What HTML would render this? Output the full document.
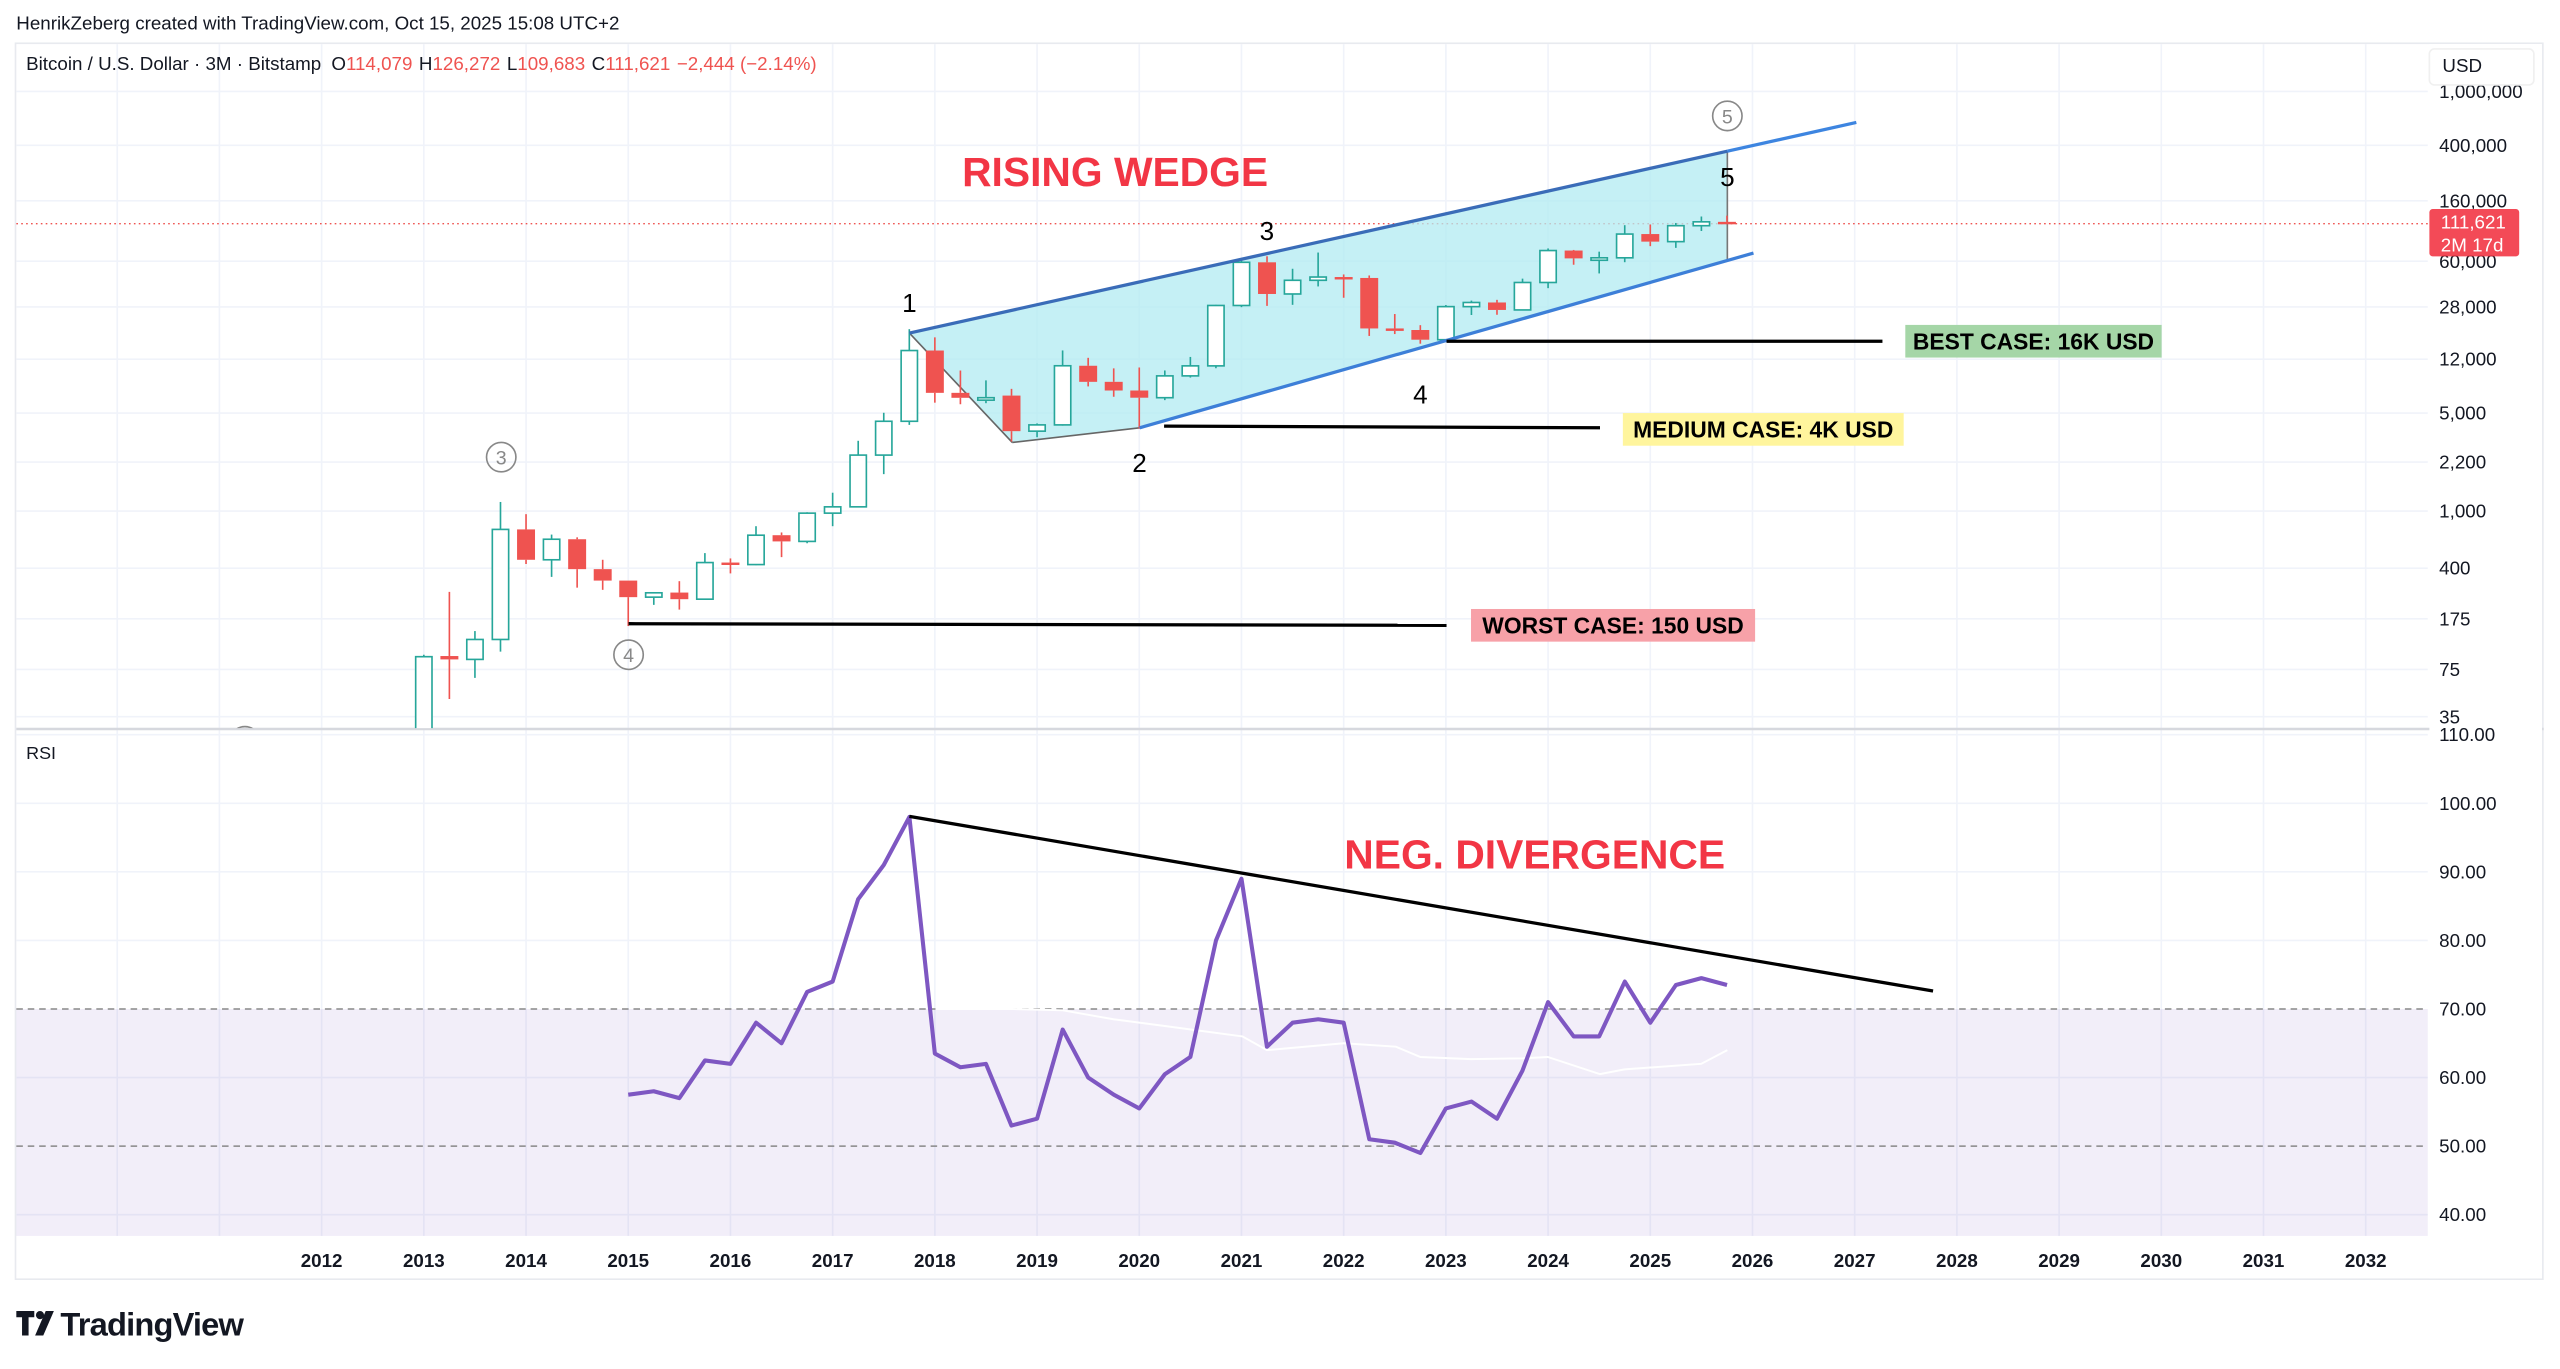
<!DOCTYPE html>
<html><head><meta charset="utf-8">
<style>
html,body{margin:0;padding:0;background:#fff;}
svg{display:block;}
text{font-family:"Liberation Sans",Arial,sans-serif;}
</style></head>
<body>
<svg id="s" width="2560" height="1369" viewBox="0 0 1568 838.5" xmlns="http://www.w3.org/2000/svg">
<defs><clipPath id="pp"><rect x="10" y="27" width="1477" height="419"/></clipPath></defs>
<rect x="0" y="0" width="1568" height="838.5" fill="#fff"/>
<text x="10" y="18" font-size="11.5" fill="#131722">HenrikZeberg created with TradingView.com, Oct 15, 2025 15:08 UTC+2</text>
<rect x="9.5" y="26.5" width="1548" height="757" fill="none" stroke="#e8eaef" stroke-width="1"/>
<g id="grid"></g>
<rect x="10" y="618" width="1477" height="139" fill="#7e57c2" fill-opacity="0.1"/>
<line x1="10" y1="618" x2="1487" y2="618" stroke="#888" stroke-dasharray="4,3" stroke-width="0.9"/>
<line x1="10" y1="702" x2="1487" y2="702" stroke="#888" stroke-dasharray="4,3" stroke-width="0.9"/>
<line x1="10" y1="446.5" x2="1558" y2="446.5" stroke="#d6d8de" stroke-width="1.5"/>
<line x1="10" y1="137" x2="1487" y2="137" stroke="#ef5350" stroke-dasharray="1,2" stroke-width="0.8"/>
<polygon points="557,204 1058,92.6 1058,159.6 698,262 620,271" fill="#b2ebf2" fill-opacity="0.75"/>
<line x1="557" y1="204" x2="620" y2="271" stroke="#666" stroke-width="1"/>
<line x1="620" y1="271" x2="698" y2="262" stroke="#666" stroke-width="1"/>
<line x1="1058" y1="92.6" x2="1058" y2="159.6" stroke="#777" stroke-width="1"/>
<g id="candles"></g>
<line x1="557" y1="204" x2="1058" y2="92.6" stroke="#3a6cb8" stroke-width="2"/>
<line x1="1058" y1="92.6" x2="1137" y2="75" stroke="#3d85e0" stroke-width="2"/>
<line x1="698" y1="262" x2="1074" y2="155" stroke="#3d7fd8" stroke-width="2"/>
<line x1="886" y1="209" x2="1153" y2="209" stroke="#000" stroke-width="2"/>
<line x1="713" y1="261" x2="980" y2="262" stroke="#000" stroke-width="2"/>
<line x1="385" y1="382" x2="886" y2="383" stroke="#000" stroke-width="2"/>
<rect x="1167" y="199" width="157" height="20" fill="#a5d6a7"/>
<text x="1245.5" y="214" font-size="14" font-weight="bold" text-anchor="middle" fill="#000">BEST CASE: 16K USD</text>
<rect x="994" y="253" width="172" height="20" fill="#fff59d"/>
<text x="1080" y="268" font-size="14" font-weight="bold" text-anchor="middle" fill="#000">MEDIUM CASE: 4K USD</text>
<rect x="901" y="373" width="174" height="20" fill="#f7a1a8"/>
<text x="988" y="388" font-size="14" font-weight="bold" text-anchor="middle" fill="#000">WORST CASE: 150 USD</text>
<text x="683" y="114" font-size="25" font-weight="bold" text-anchor="middle" fill="#f23645">RISING WEDGE</text>
<text x="940" y="532" font-size="25" font-weight="bold" text-anchor="middle" fill="#f23645">NEG. DIVERGENCE</text>
<g font-size="16" fill="#000" text-anchor="middle">
<text x="557" y="191">1</text><text x="698" y="289">2</text><text x="776" y="147">3</text><text x="870" y="247">4</text><text x="1058" y="114">5</text>
</g>
<g fill="none" stroke="#888" stroke-width="1" clip-path="url(#pp)">
<circle cx="307" cy="280" r="9"/><circle cx="385" cy="401" r="9"/><circle cx="1058" cy="71" r="9"/><circle cx="150" cy="454" r="9"/>
</g>
<g font-size="12" fill="#888" text-anchor="middle">
<text x="307" y="284.5">3</text><text x="385" y="405.5">4</text><text x="1058" y="75.5">5</text>
</g>
<polyline id="ma" fill="none" stroke="#fff" stroke-width="1.2" points=""/>
<polyline id="rsi" fill="none" stroke="#7e57c2" stroke-width="2.5" stroke-linejoin="round" points=""/>
<line x1="557" y1="500" x2="1184" y2="607" stroke="#000" stroke-width="2"/>
<text x="16" y="43" font-size="11.5" fill="#131722">Bitcoin / U.S. Dollar · 3M · Bitstamp <tspan dx="3">O</tspan><tspan fill="#ef5350">114,079</tspan><tspan dx="4">H</tspan><tspan fill="#ef5350">126,272</tspan><tspan dx="4">L</tspan><tspan fill="#ef5350">109,683</tspan><tspan dx="4">C</tspan><tspan fill="#ef5350">111,621</tspan><tspan dx="4" fill="#ef5350">−2,444 (−2.14%)</tspan></text>
<text x="16" y="465" font-size="11" fill="#131722">RSI</text>
<rect x="1488" y="27" width="69" height="756" fill="#fff"/>
<g font-size="11.5" fill="#131722" id="pl"></g>
<rect x="1488" y="30" width="64" height="22" rx="3" fill="#fff" stroke="#f0f0f0"/>
<text x="1496" y="44" font-size="11.5" fill="#131722">USD</text>
<rect x="1488" y="128" width="55" height="29" rx="2" fill="#f23645" fill-opacity="0.9"/>
<text x="1495" y="140" font-size="11.5" fill="#fff">111,621</text>
<text x="1495" y="154" font-size="11.5" fill="#fff">2M 17d</text>
<g id="years" font-size="11.5" font-weight="bold" fill="#131722" text-anchor="middle"></g>
<g transform="translate(10,803)">
<path d="M0 0h11v3.8h-3.5v11.2h-4v-11.2h-3.5z" fill="#131722"/>
<circle cx="14.5" cy="2.5" r="2.5" fill="#131722"/>
<path d="M18 0h5l-6.5 15h-5z" fill="#131722"/>
</g>
<text x="37" y="818" font-size="20" font-weight="bold" fill="#131722" letter-spacing="-0.5">TradingView</text>
<script>
(function(){
var NS="http://www.w3.org/2000/svg";
function el(t,a,p){var e=document.createElementNS(NS,t);for(var k in a)e.setAttribute(k,a[k]);(p||document.getElementById('s')).appendChild(e);return e;}
var grid=document.getElementById('grid');
function Y(p){return 571.3-86.1*Math.log10(p);}
function X(yr){return 197+(yr-2012)*62.6;}
for(var yr=2009;yr<=2033;yr++){var x=X(yr);if(x>10&&x<1487)el('line',{x1:x,y1:27,x2:x,y2:757,stroke:'#f0f3fa','stroke-width':1},grid);}
var pls=[[1000000,56],[400000,89],[160000,123],[60000,160],[28000,188],[12000,220],[5000,253],[2200,283],[1000,313],[400,348],[175,379],[75,410],[35,439]];
var labs=['1,000,000','400,000','160,000','60,000','28,000','12,000','5,000','2,200','1,000','400','175','75','35'];
var pl=document.getElementById('pl');
pls.forEach(function(q,i){el('line',{x1:10,y1:q[1],x2:1487,y2:q[1],stroke:'#f0f3fa','stroke-width':1},grid);
 var t=el('text',{x:1494,y:q[1]+4},pl);t.textContent=labs[i];});
for(var v=110;v>=40;v-=10){var y=450+(110-v)*4.2;if(v!=70&&v!=50)el('line',{x1:10,y1:y,x2:1487,y2:y,stroke:'#f0f3fa','stroke-width':1},grid);
 var t=el('text',{x:1494,y:y+4},pl);t.textContent=v.toFixed(2);}
var yg=document.getElementById('years');
for(var yr=2012;yr<=2032;yr++){var t=el('text',{x:X(yr),y:776},yg);t.textContent=yr;}
var c=[
[13,95,13,92],[93,266,46,88],[88,140,65,122],[122,1160,100,740],
[740,950,420,450],[450,680,340,630],[630,650,285,386],[386,450,275,320],
[320,320,152,244],[244,265,215,262],[263,317,199,236],[236,502,237,430],
[430,460,360,416],[416,780,412,673],[673,704,470,608],[608,980,590,966],
[966,1350,780,1071],[1071,3160,1070,2500],[2500,5000,1830,4350],[4350,19666,4100,13860],
[13860,17200,5900,6930],[6930,9990,5750,6390],[6390,8500,5850,6400],[6626,7400,3120,3700],
[3700,4200,3350,4100],[4100,13880,4050,10800],[10800,12300,7700,8300],[8300,10350,6500,7200],
[7200,10500,3850,6400],[6400,10000,6150,9150],[9150,12480,8900,10780],[10780,29300,10370,28990],
[28990,61800,28200,58800],[58800,64900,28800,35000],[35000,52900,29300,43800],[43800,69000,39600,46200],
[46200,48200,32900,45500],[45500,47400,17600,19900],[19900,25200,18150,19400],[19400,21000,15500,16550],
[16550,29200,16500,28450],[28450,31400,24800,30450],[30450,31800,24900,26950],[26950,45000,26950,42250],
[42250,73800,38500,71300],[71300,72000,56500,62700],[62700,70000,49000,63300],[63300,108000,58900,93400],
[93400,109300,76600,82500],[82500,112000,74500,107100],[107100,124500,98200,114100],[114079,126272,109683,111621]];
var cg=document.getElementById('candles');
cg.setAttribute('clip-path','url(#pp)');
c.forEach(function(d,i){var x=X(2013)+i*15.65;var up=d[3]>=d[0];var col=up?'#26a69a':'#ef5350';
 var yo=Y(d[0]),yc=Y(d[3]),yh=Y(d[1]),yl=Y(d[2]);var top=Math.min(yo,yc),bot=Math.max(yo,yc);
 if(bot-top<1.5){bot=top+1.5;}
 el('line',{x1:x,y1:yh,x2:x,y2:top,stroke:col,'stroke-width':1},cg);
 el('line',{x1:x,y1:bot,x2:x,y2:yl,stroke:col,'stroke-width':1},cg);
 if(up)el('rect',{x:x-5,y:top,width:10,height:bot-top,fill:'#fff',stroke:col,'stroke-width':1},cg);
 else el('rect',{x:x-5.5,y:top,width:11,height:bot-top,fill:col},cg);});
var r=[57.5,58,57,62.5,62,68,65,72.5,74,86,91,98,63.5,61.5,62,53,54,67,60,57.5,55.5,60.5,63,80,89,64.5,68,68.5,68,51,50.5,49,55.5,56.5,54,61,71,66,66,74,68,73.5,74.5,73.5];
var pts=r.map(function(v,i){return (X(2015)+i*15.65).toFixed(1)+','+(450+(110-v)*4.2).toFixed(1);}).join(' ');
document.getElementById('rsi').setAttribute('points',pts);
var ma=[[573,70],[620,70],[651,69.8],[682,68.5],[714,67.5],[761,66],[776,64],[823,65],[855,64.5],[870,63],[901,62.7],[933,62.8],[948,63],[980,60.5],[995,61.2],[1042,62],[1058,64]];
document.getElementById('ma').setAttribute('points',ma.map(function(p){return p[0]+','+(450+(110-p[1])*4.2).toFixed(1);}).join(' '));
})();
</script>
</svg>
</body></html>
